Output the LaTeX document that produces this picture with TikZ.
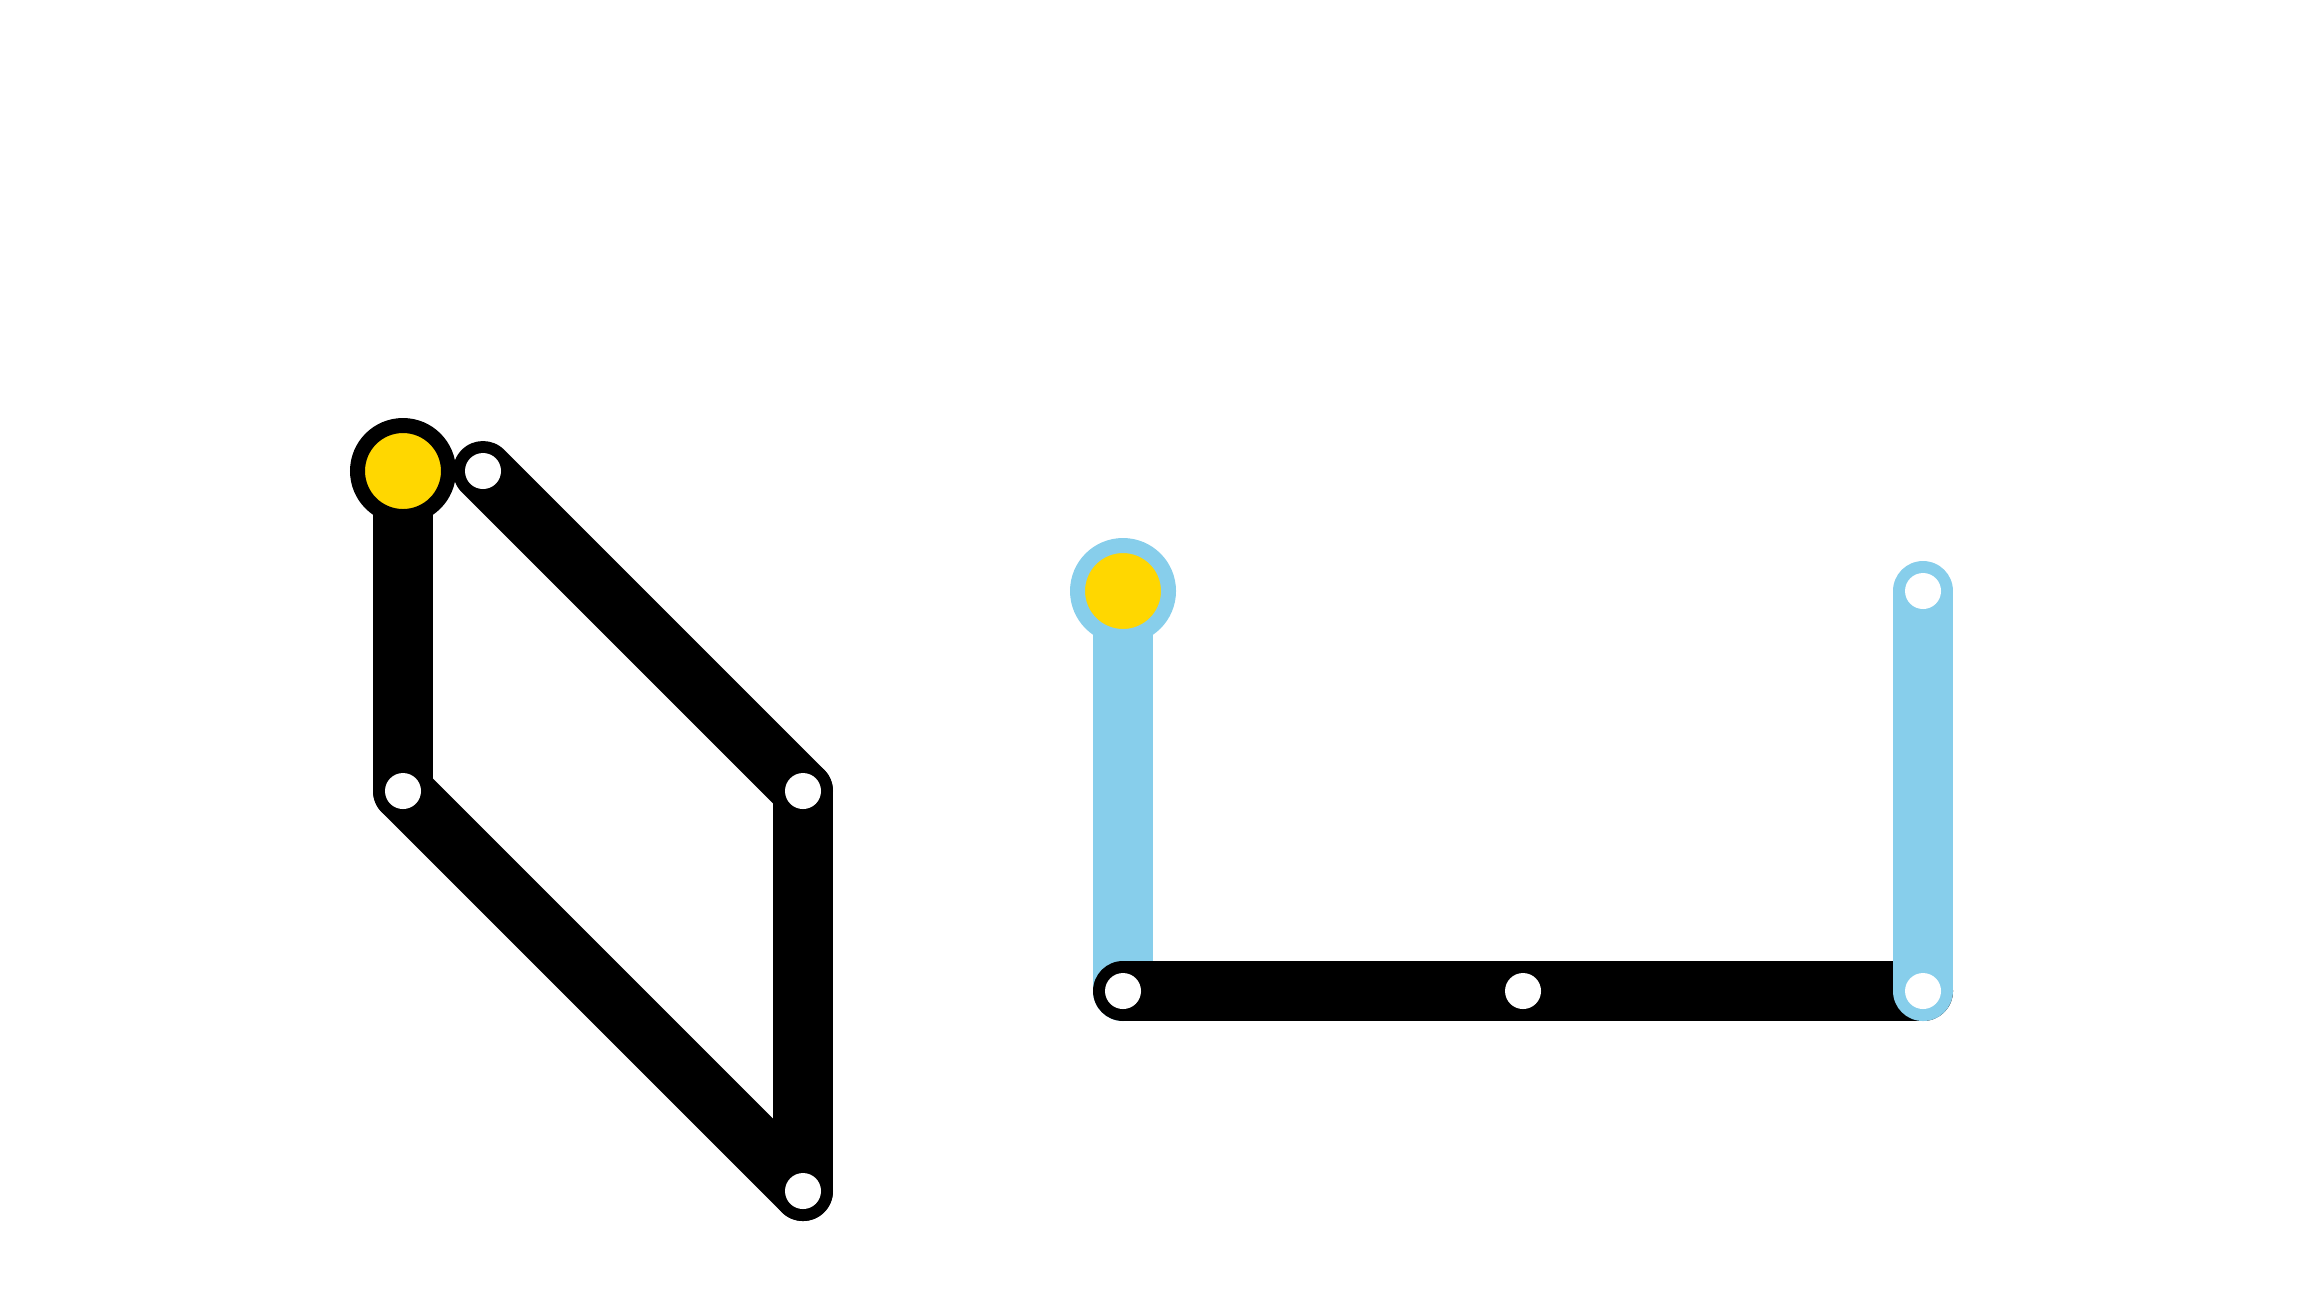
\documentclass[tikz,border=0pt]{standalone}
\usetikzlibrary{backgrounds}
\definecolor{lnblue}{RGB}{135,206,235}
\definecolor{hubyel}{RGB}{255,215,0}
\tikzset{mapp/.style={
  x=0.1mm,
  y=-0.1mm
}}
\tikzset{trk/.style={
  line width=6mm,
  line cap=round
}}
\tikzset{stn/.style={
  shape=circle,
  fill=white,
  inner sep=0pt,
  minimum size=3.6mm
}}
\tikzset{hub/.style={
  shape=circle,
  fill=hubyel,
  line width=1.5mm,
  inner sep=0pt,
  minimum size=9.1mm
}}
\begin{document}
\begin{tikzpicture}[mapp]

    \useasboundingbox (0,0) rectangle (2320,1308);

    %% Left network

    % Stations
    \node[hub,draw=black] (a) at (403,471) {};
    \node[stn] (b) at (483,471) {};
    \node[stn] (c) at (403,791) {};
    \node[stn] (d) at (803,791) {};
    \node[stn] (e) at (803,1191) {};

    %% Right network

    % Stations
    \node[hub,draw=lnblue] (p) at (1123,591) {};
    \node[stn] (q) at (1123,991) {};
    \node[stn] (r) at (1523,991) {};
    \node[stn] (s) at (1923,991) {};
    \node[stn] (t) at (1923,591) {};

    % Tracks
    \begin{pgfonlayer}{background}
      \draw[trk] (a.center) -- (c.center);
      \draw[trk] (b.center) -- (d.center);
      \draw[trk] (c.center) -- (e.center);
      \draw[trk] (d.center) -- (e.center);
      \draw[trk,lnblue] (p.center) -- (q.center);
      \draw[trk] (q.center) -- (r.center) -- (s.center);
      \draw[trk,lnblue] (t.center) -- (s.center);
    \end{pgfonlayer}

  \end{tikzpicture}
\end{document}
